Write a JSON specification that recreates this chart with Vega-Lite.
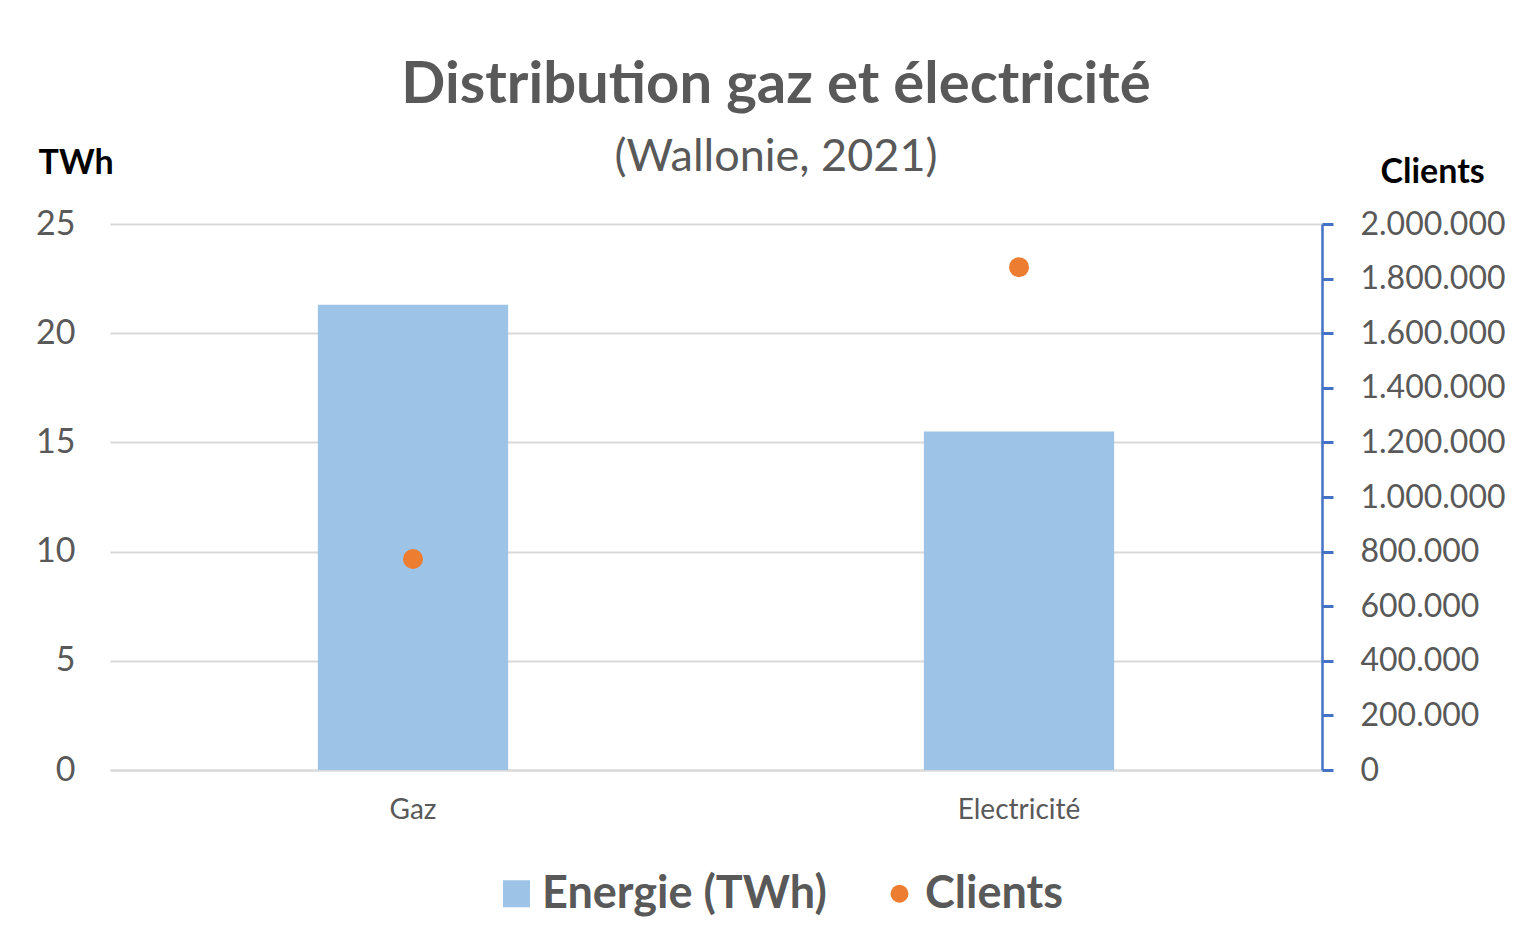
{
  "$schema": "https://vega.github.io/schema/vega-lite/v6.json",
  "width": 1212,
  "height": 546,
  "autosize": {"type": "none"},
  "padding": {"left": 110, "top": 224, "right": 192, "bottom": 180},
  "background": "white",
  "config": {"view": {"stroke": null}},
  "title": {
    "text": "Distribution gaz et électricité",
    "subtitle": "(Wallonie, 2021)",
    "frame": "group",
    "anchor": "middle",
    "dx": 60,
    "offset": -34,
    "font": "Lato",
    "fontSize": 58,
    "fontWeight": "bold",
    "color": "#595959",
    "subtitleFont": "Lato",
    "subtitleFontSize": 45,
    "subtitleColor": "#595959",
    "subtitlePadding": 20
  },
  "data": {
    "values": [
      {"cat": "Gaz", "energie": 21.3, "clients": 773000},
      {"cat": "Electricité", "energie": 15.5, "clients": 1842000}
    ]
  },
  "layer": [
    {
      "mark": {"type": "bar"},
      "encoding": {
        "x": {
          "field": "cat",
          "type": "nominal",
          "sort": null,
          "scale": {"paddingInner": 0.686, "paddingOuter": 0.343},
          "axis": {
            "title": null,
            "labelAngle": 0,
            "domain": true,
            "domainColor": "#d9d9d9",
            "domainWidth": 2,
            "ticks": false,
            "grid": false,
            "labelFont": "Lato",
            "labelFontSize": 28,
            "labelColor": "#595959",
            "labelPadding": 26
          }
        },
        "y": {
          "field": "energie",
          "type": "quantitative",
          "scale": {"domain": [0, 25], "nice": false},
          "axis": {
            "orient": "left",
            "values": [0, 5, 10, 15, 20, 25],
            "domain": false,
            "ticks": false,
            "grid": true,
            "gridColor": "#d9d9d9",
            "gridWidth": 2,
            "labelFont": "Lato",
            "labelFontSize": 34,
            "labelColor": "#595959",
            "labelPadding": 35,
            "title": "TWh",
            "titleAngle": 0,
            "titleAlign": "left",
            "titleBaseline": "alphabetic",
            "titleX": -72,
            "titleY": -51,
            "titleFont": "Lato",
            "titleFontSize": 34,
            "titleFontWeight": "bold",
            "titleColor": "#000000"
          }
        },
        "color": {
          "datum": "Energie (TWh)",
          "type": "nominal",
          "scale": {"domain": ["Energie (TWh)", "Clients"], "range": ["#9DC3E6", "#ED7D31"]},
          "legend": {
            "orient": "none",
            "legendX": 384,
            "legendY": 647,
            "direction": "horizontal",
            "title": null,
            "padding": 0,
            "labelFont": "Lato",
            "labelFontSize": 45,
            "labelFontWeight": "bold",
            "labelColor": "#595959",
            "labelLimit": 500,
            "labelOffset": 3,
            "columnPadding": 50,
            "symbolSize": 729,
            "symbolOpacity": 1,
            "symbolStrokeWidth": 0,
            "encode": {
              "symbols": {
                "update": {
                  "shape": {"signal": "datum.label === 'Clients' ? 'circle' : 'square'"},
                  "size": {"signal": "datum.label === 'Clients' ? 324 : 729"}
                }
              }
            }
          }
        }
      }
    },
    {
      "mark": {"type": "point", "filled": true, "opacity": 1, "size": 400},
      "encoding": {
        "x": {"field": "cat", "type": "nominal", "sort": null},
        "y": {
          "field": "clients",
          "type": "quantitative",
          "scale": {"domain": [0, 2000000], "nice": false},
          "axis": {
            "orient": "right",
            "values": [0, 200000, 400000, 600000, 800000, 1000000, 1200000, 1400000, 1600000, 1800000, 2000000],
            "labelExpr": "replace(format(datum.value, ','), regexp(',', 'g'), '.')",
            "domain": true,
            "domainColor": "#4472C4",
            "domainWidth": 2.5,
            "ticks": true,
            "tickColor": "#4472C4",
            "tickSize": 11,
            "tickWidth": 3,
            "grid": false,
            "labelFont": "Lato",
            "labelFontSize": 32,
            "labelColor": "#595959",
            "labelPadding": 27,
            "title": "Clients",
            "titleAngle": 0,
            "titleAlign": "left",
            "titleBaseline": "alphabetic",
            "titleX": 58,
            "titleY": -42,
            "titleFont": "Lato",
            "titleFontSize": 34,
            "titleFontWeight": "bold",
            "titleColor": "#000000"
          }
        },
        "color": {"datum": "Clients", "type": "nominal"}
      }
    }
  ],
  "resolve": {"scale": {"y": "independent"}}
}
